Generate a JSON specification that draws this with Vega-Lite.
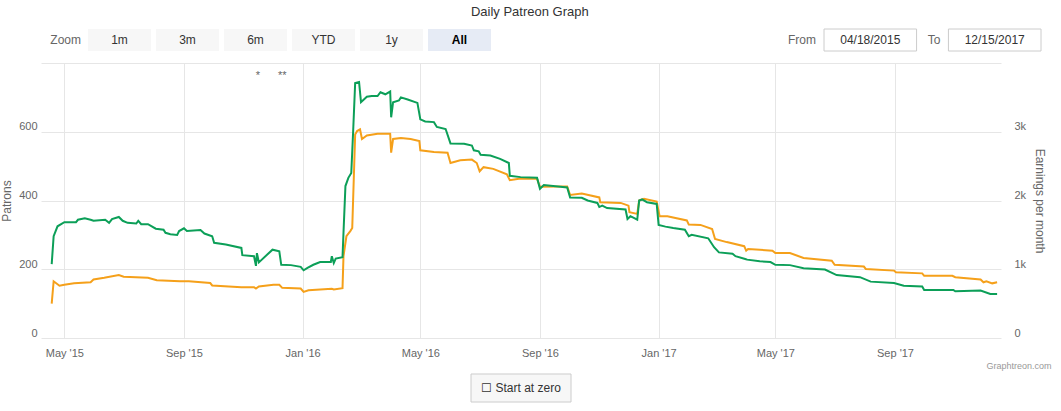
{
  "$schema": "https://vega.github.io/schema/vega-lite/v6.json",
  "background": "white",
  "padding": {"left": 0, "top": 5, "right": 5, "bottom": 5},
  "config": {
    "font": "Liberation Sans",
    "view": {"stroke": null},
    "axis": {"labelFont": "Liberation Sans", "titleFont": "Liberation Sans"}
  },
  "title": {
    "text": "Daily Patreon Graph",
    "fontSize": 13,
    "fontWeight": "normal",
    "color": "#333333",
    "anchor": "middle",
    "offset": 10,
    "dx": 4
  },
  "datasets": {
    "buttons": [
      {"btn": "1m"}, {"btn": "3m"}, {"btn": "6m"}, {"btn": "YTD"}, {"btn": "1y"}, {"btn": "All"}
    ],
    "range": [
      {"field": "From", "date": "04/18/2015"},
      {"field": "To", "date": "12/15/2017"}
    ],
    "patrons": [
      {"date": "2015-04-18", "patrons": 215},
      {"date": "2015-04-20", "patrons": 296},
      {"date": "2015-04-24", "patrons": 325},
      {"date": "2015-05-01", "patrons": 337},
      {"date": "2015-05-13", "patrons": 337},
      {"date": "2015-05-15", "patrons": 344},
      {"date": "2015-05-22", "patrons": 348},
      {"date": "2015-05-28", "patrons": 344},
      {"date": "2015-05-31", "patrons": 341},
      {"date": "2015-06-12", "patrons": 344},
      {"date": "2015-06-16", "patrons": 335},
      {"date": "2015-06-19", "patrons": 346},
      {"date": "2015-06-26", "patrons": 352},
      {"date": "2015-06-30", "patrons": 341},
      {"date": "2015-07-05", "patrons": 335},
      {"date": "2015-07-14", "patrons": 333},
      {"date": "2015-07-16", "patrons": 341},
      {"date": "2015-07-19", "patrons": 331},
      {"date": "2015-07-26", "patrons": 331},
      {"date": "2015-08-03", "patrons": 318},
      {"date": "2015-08-11", "patrons": 315},
      {"date": "2015-08-13", "patrons": 306},
      {"date": "2015-08-18", "patrons": 302},
      {"date": "2015-08-25", "patrons": 300},
      {"date": "2015-08-27", "patrons": 311},
      {"date": "2015-09-01", "patrons": 319},
      {"date": "2015-09-04", "patrons": 311},
      {"date": "2015-09-18", "patrons": 314},
      {"date": "2015-09-22", "patrons": 304},
      {"date": "2015-09-30", "patrons": 296},
      {"date": "2015-10-02", "patrons": 277},
      {"date": "2015-10-14", "patrons": 272},
      {"date": "2015-10-30", "patrons": 262},
      {"date": "2015-10-31", "patrons": 241},
      {"date": "2015-11-12", "patrons": 238},
      {"date": "2015-11-14", "patrons": 210},
      {"date": "2015-11-15", "patrons": 247},
      {"date": "2015-11-17", "patrons": 220},
      {"date": "2015-12-01", "patrons": 257},
      {"date": "2015-12-08", "patrons": 252},
      {"date": "2015-12-10", "patrons": 213},
      {"date": "2015-12-20", "patrons": 212},
      {"date": "2015-12-30", "patrons": 207},
      {"date": "2016-01-02", "patrons": 197},
      {"date": "2016-01-06", "patrons": 204},
      {"date": "2016-01-12", "patrons": 213},
      {"date": "2016-01-19", "patrons": 221},
      {"date": "2016-01-30", "patrons": 221},
      {"date": "2016-01-31", "patrons": 238},
      {"date": "2016-02-02", "patrons": 218},
      {"date": "2016-02-04", "patrons": 231},
      {"date": "2016-02-11", "patrons": 235},
      {"date": "2016-02-12", "patrons": 306},
      {"date": "2016-02-14", "patrons": 442},
      {"date": "2016-02-17", "patrons": 466},
      {"date": "2016-02-20", "patrons": 480},
      {"date": "2016-02-22", "patrons": 606},
      {"date": "2016-02-24", "patrons": 742},
      {"date": "2016-02-28", "patrons": 745},
      {"date": "2016-03-01", "patrons": 686},
      {"date": "2016-03-07", "patrons": 702},
      {"date": "2016-03-12", "patrons": 704},
      {"date": "2016-03-18", "patrons": 704},
      {"date": "2016-03-21", "patrons": 715},
      {"date": "2016-03-26", "patrons": 709},
      {"date": "2016-03-31", "patrons": 717},
      {"date": "2016-04-01", "patrons": 642},
      {"date": "2016-04-03", "patrons": 686},
      {"date": "2016-04-09", "patrons": 691},
      {"date": "2016-04-11", "patrons": 700},
      {"date": "2016-04-18", "patrons": 694},
      {"date": "2016-04-28", "patrons": 684},
      {"date": "2016-05-01", "patrons": 636},
      {"date": "2016-05-06", "patrons": 630},
      {"date": "2016-05-15", "patrons": 628},
      {"date": "2016-05-18", "patrons": 614},
      {"date": "2016-05-27", "patrons": 608},
      {"date": "2016-06-01", "patrons": 566},
      {"date": "2016-06-15", "patrons": 565},
      {"date": "2016-06-23", "patrons": 560},
      {"date": "2016-06-25", "patrons": 546},
      {"date": "2016-06-30", "patrons": 543},
      {"date": "2016-07-02", "patrons": 533},
      {"date": "2016-07-12", "patrons": 531},
      {"date": "2016-07-22", "patrons": 521},
      {"date": "2016-07-31", "patrons": 509},
      {"date": "2016-08-01", "patrons": 472},
      {"date": "2016-08-12", "patrons": 468},
      {"date": "2016-08-29", "patrons": 466},
      {"date": "2016-09-01", "patrons": 434},
      {"date": "2016-09-05", "patrons": 445},
      {"date": "2016-09-22", "patrons": 440},
      {"date": "2016-09-29", "patrons": 438},
      {"date": "2016-10-02", "patrons": 409},
      {"date": "2016-10-14", "patrons": 408},
      {"date": "2016-10-20", "patrons": 400},
      {"date": "2016-10-30", "patrons": 393},
      {"date": "2016-11-01", "patrons": 381},
      {"date": "2016-11-04", "patrons": 385},
      {"date": "2016-11-09", "patrons": 378},
      {"date": "2016-11-28", "patrons": 374},
      {"date": "2016-11-30", "patrons": 346},
      {"date": "2016-12-03", "patrons": 354},
      {"date": "2016-12-06", "patrons": 350},
      {"date": "2016-12-10", "patrons": 344},
      {"date": "2016-12-12", "patrons": 400},
      {"date": "2016-12-15", "patrons": 403},
      {"date": "2016-12-20", "patrons": 395},
      {"date": "2016-12-30", "patrons": 390},
      {"date": "2017-01-01", "patrons": 329},
      {"date": "2017-01-08", "patrons": 324},
      {"date": "2017-01-16", "patrons": 320},
      {"date": "2017-01-28", "patrons": 315},
      {"date": "2017-02-01", "patrons": 296},
      {"date": "2017-02-04", "patrons": 300},
      {"date": "2017-02-21", "patrons": 290},
      {"date": "2017-02-27", "patrons": 264},
      {"date": "2017-03-04", "patrons": 249},
      {"date": "2017-03-18", "patrons": 245},
      {"date": "2017-03-21", "patrons": 238},
      {"date": "2017-03-31", "patrons": 230},
      {"date": "2017-04-02", "patrons": 228},
      {"date": "2017-04-15", "patrons": 223},
      {"date": "2017-04-26", "patrons": 221},
      {"date": "2017-05-01", "patrons": 213},
      {"date": "2017-05-16", "patrons": 212},
      {"date": "2017-05-30", "patrons": 203},
      {"date": "2017-06-21", "patrons": 199},
      {"date": "2017-07-03", "patrons": 183},
      {"date": "2017-07-27", "patrons": 177},
      {"date": "2017-08-07", "patrons": 164},
      {"date": "2017-08-31", "patrons": 160},
      {"date": "2017-09-10", "patrons": 152},
      {"date": "2017-09-29", "patrons": 150},
      {"date": "2017-10-01", "patrons": 140},
      {"date": "2017-10-31", "patrons": 140},
      {"date": "2017-11-02", "patrons": 136},
      {"date": "2017-11-28", "patrons": 138},
      {"date": "2017-12-08", "patrons": 128},
      {"date": "2017-12-15", "patrons": 128}
    ],
    "earnings": [
      {"date": "2015-04-18", "earnings": 500},
      {"date": "2015-04-20", "earnings": 825},
      {"date": "2015-04-26", "earnings": 760},
      {"date": "2015-05-01", "earnings": 775},
      {"date": "2015-05-11", "earnings": 795},
      {"date": "2015-05-28", "earnings": 810},
      {"date": "2015-05-31", "earnings": 850},
      {"date": "2015-06-11", "earnings": 875},
      {"date": "2015-06-26", "earnings": 915},
      {"date": "2015-07-01", "earnings": 890},
      {"date": "2015-07-26", "earnings": 875},
      {"date": "2015-08-04", "earnings": 840},
      {"date": "2015-08-28", "earnings": 825},
      {"date": "2015-09-06", "earnings": 825},
      {"date": "2015-09-28", "earnings": 800},
      {"date": "2015-09-30", "earnings": 765},
      {"date": "2015-10-30", "earnings": 740},
      {"date": "2015-11-12", "earnings": 740},
      {"date": "2015-11-14", "earnings": 720},
      {"date": "2015-11-17", "earnings": 750},
      {"date": "2015-12-02", "earnings": 775},
      {"date": "2015-12-08", "earnings": 775},
      {"date": "2015-12-11", "earnings": 730},
      {"date": "2015-12-30", "earnings": 720},
      {"date": "2016-01-02", "earnings": 670},
      {"date": "2016-01-07", "earnings": 695},
      {"date": "2016-01-31", "earnings": 715},
      {"date": "2016-02-02", "earnings": 705},
      {"date": "2016-02-11", "earnings": 725},
      {"date": "2016-02-12", "earnings": 1190},
      {"date": "2016-02-15", "earnings": 1480},
      {"date": "2016-02-19", "earnings": 1555},
      {"date": "2016-02-21", "earnings": 1600},
      {"date": "2016-02-24", "earnings": 2960},
      {"date": "2016-02-26", "earnings": 3010},
      {"date": "2016-02-29", "earnings": 3035},
      {"date": "2016-03-02", "earnings": 2895},
      {"date": "2016-03-07", "earnings": 2945},
      {"date": "2016-03-18", "earnings": 2970},
      {"date": "2016-03-31", "earnings": 2970},
      {"date": "2016-04-01", "earnings": 2695},
      {"date": "2016-04-03", "earnings": 2895},
      {"date": "2016-04-11", "earnings": 2910},
      {"date": "2016-04-21", "earnings": 2895},
      {"date": "2016-04-30", "earnings": 2865},
      {"date": "2016-05-01", "earnings": 2730},
      {"date": "2016-05-15", "earnings": 2705},
      {"date": "2016-05-29", "earnings": 2695},
      {"date": "2016-06-01", "earnings": 2545},
      {"date": "2016-06-11", "earnings": 2585},
      {"date": "2016-06-23", "earnings": 2595},
      {"date": "2016-06-28", "earnings": 2545},
      {"date": "2016-07-01", "earnings": 2425},
      {"date": "2016-07-05", "earnings": 2485},
      {"date": "2016-07-15", "earnings": 2460},
      {"date": "2016-07-29", "earnings": 2380},
      {"date": "2016-08-01", "earnings": 2295},
      {"date": "2016-08-12", "earnings": 2320},
      {"date": "2016-08-29", "earnings": 2315},
      {"date": "2016-09-01", "earnings": 2200},
      {"date": "2016-09-22", "earnings": 2205},
      {"date": "2016-09-29", "earnings": 2205},
      {"date": "2016-10-02", "earnings": 2080},
      {"date": "2016-10-14", "earnings": 2100},
      {"date": "2016-11-01", "earnings": 2045},
      {"date": "2016-11-02", "earnings": 1975},
      {"date": "2016-11-23", "earnings": 1965},
      {"date": "2016-12-01", "earnings": 1925},
      {"date": "2016-12-02", "earnings": 1830},
      {"date": "2016-12-10", "earnings": 1805},
      {"date": "2016-12-12", "earnings": 2000},
      {"date": "2016-12-17", "earnings": 2025},
      {"date": "2016-12-30", "earnings": 1985},
      {"date": "2017-01-02", "earnings": 1770},
      {"date": "2017-01-10", "earnings": 1770},
      {"date": "2017-01-30", "earnings": 1710},
      {"date": "2017-02-01", "earnings": 1650},
      {"date": "2017-02-13", "earnings": 1645},
      {"date": "2017-02-25", "earnings": 1585},
      {"date": "2017-02-28", "earnings": 1440},
      {"date": "2017-03-12", "earnings": 1395},
      {"date": "2017-03-30", "earnings": 1335},
      {"date": "2017-04-01", "earnings": 1270},
      {"date": "2017-04-03", "earnings": 1295},
      {"date": "2017-04-28", "earnings": 1270},
      {"date": "2017-05-01", "earnings": 1235},
      {"date": "2017-05-16", "earnings": 1235},
      {"date": "2017-05-30", "earnings": 1165},
      {"date": "2017-06-28", "earnings": 1125},
      {"date": "2017-07-01", "earnings": 1065},
      {"date": "2017-07-31", "earnings": 1040},
      {"date": "2017-08-02", "earnings": 1005},
      {"date": "2017-08-31", "earnings": 980},
      {"date": "2017-09-02", "earnings": 955},
      {"date": "2017-09-29", "earnings": 940},
      {"date": "2017-10-01", "earnings": 905},
      {"date": "2017-10-30", "earnings": 905},
      {"date": "2017-11-02", "earnings": 885},
      {"date": "2017-11-28", "earnings": 850},
      {"date": "2017-12-01", "earnings": 810},
      {"date": "2017-12-04", "earnings": 825},
      {"date": "2017-12-10", "earnings": 795},
      {"date": "2017-12-15", "earnings": 810}
    ],
    "notes": [
      {"date": "2015-11-16", "label": "*"},
      {"date": "2015-12-11", "label": "**"}
    ],
    "control": [
      {"control": "☐ Start at zero"}
    ]
  },
  "bounds": "flush",
  "spacing": 34,
  "vconcat": [
    {
      "bounds": "flush",
      "spacing": 333,
      "hconcat": [
        {
          "width": 450,
          "height": 22,
          "data": {"name": "buttons"},
          "encoding": {
            "x": {
              "field": "btn",
              "type": "nominal",
              "scale": {
                "domain": ["1m", "3m", "6m", "YTD", "1y", "All"],
                "paddingInner": 0.0735,
                "paddingOuter": 0.3456,
                "align": 1
              },
              "axis": null
            }
          },
          "layer": [
            {
              "mark": {"type": "rect"},
              "encoding": {
                "color": {
                  "condition": {"test": "datum.btn === 'All'", "value": "#e6ebf5"},
                  "value": "#f7f7f7"
                }
              }
            },
            {
              "transform": [{"filter": "datum.btn !== 'All'"}],
              "mark": {"type": "text", "fontSize": 12, "color": "#333333"},
              "encoding": {"text": {"field": "btn"}}
            },
            {
              "transform": [{"filter": "datum.btn === 'All'"}],
              "mark": {"type": "text", "fontSize": 12, "fontWeight": "bold", "color": "#000000"},
              "encoding": {"text": {"field": "btn"}}
            },
            {
              "transform": [{"filter": "datum.btn === '1m'"}],
              "mark": {"type": "text", "fontSize": 12, "color": "#666666", "align": "right", "dx": -7},
              "encoding": {
                "x": {"field": "btn", "type": "nominal", "bandPosition": 0, "axis": null},
                "text": {"value": "Zoom"}
              }
            }
          ]
        },
        {
          "width": 217,
          "height": 22,
          "data": {"name": "range"},
          "encoding": {
            "x": {
              "field": "field",
              "type": "nominal",
              "scale": {
                "domain": ["From", "To"],
                "paddingInner": 0.256,
                "paddingOuter": 0
              },
              "axis": null
            }
          },
          "layer": [
            {
              "mark": {"type": "rect", "fill": "white", "stroke": "#cccccc", "strokeWidth": 1}
            },
            {
              "mark": {"type": "text", "fontSize": 12, "color": "#333333"},
              "encoding": {"text": {"field": "date"}}
            },
            {
              "mark": {"type": "text", "fontSize": 12, "color": "#666666", "align": "right", "dx": -8},
              "encoding": {
                "x": {"field": "field", "type": "nominal", "bandPosition": 0, "axis": null},
                "text": {"field": "field"}
              }
            }
          ]
        }
      ]
    },
    {
      "width": 960,
      "height": 275,
      "encoding": {
        "x": {
          "field": "date",
          "type": "temporal",
          "scale": {
            "type": "utc",
            "domain": [
              {"year": 2015, "month": 4, "date": 7, "utc": true},
              {"year": 2017, "month": 12, "date": 19, "utc": true}
            ]
          },
          "axis": {
            "labelExpr": "utcFormat(datum.value, '%b') + \" '\" + utcFormat(datum.value, '%y')",
            "tickCount": {"interval": "month", "step": 4},
            "ticks": false,
            "domain": false,
            "grid": true,
            "gridColor": "#e6e6e6",
            "labelFontSize": 11,
            "labelColor": "#666666",
            "labelPadding": 9,
            "labelFlush": false,
            "title": "Graphtreon.com",
            "titleFontSize": 9,
            "titleFontWeight": "normal",
            "titleColor": "#999999",
            "titleAnchor": "end",
            "titleAlign": "right",
            "titleBaseline": "middle",
            "titleX": 1010,
            "titleY": 27
          }
        }
      },
      "layer": [
        {
          "data": {"name": "earnings"},
          "mark": {"type": "line", "color": "#f5a01a", "strokeWidth": 2},
          "encoding": {
            "y": {
              "field": "earnings",
              "type": "quantitative",
              "scale": {"domain": [0, 4000], "nice": false},
              "axis": {
                "orient": "right",
                "values": [0, 1000, 2000, 3000, 4000],
                "labelExpr": "datum.value == 4000 ? '' : (datum.value == 0 ? '0' : (datum.value / 1000) + 'k')",
                "ticks": false,
                "domain": false,
                "grid": false,
                "labelFontSize": 11,
                "labelColor": "#666666",
                "labelPadding": 13,
                "labelBaseline": "bottom",
                "title": "Earnings per month",
                "titleFontSize": 12,
                "titleFontWeight": "normal",
                "titleColor": "#666666",
                "titlePadding": 7
              }
            }
          }
        },
        {
          "layer": [
            {
              "data": {"name": "patrons"},
              "mark": {"type": "line", "color": "#0c9f58", "strokeWidth": 2},
              "encoding": {
                "y": {
                  "field": "patrons",
                  "type": "quantitative",
                  "scale": {"domain": [0, 800], "nice": false},
                  "axis": {
                    "orient": "left",
                    "values": [0, 200, 400, 600, 800],
                    "labelExpr": "datum.value == 800 ? '' : datum.label",
                    "ticks": false,
                    "domain": false,
                    "grid": true,
                    "gridColor": "#e6e6e6",
                    "labelFontSize": 11,
                    "labelColor": "#666666",
                    "labelPadding": 4,
                    "labelBaseline": "bottom",
                    "title": "Patrons",
                    "titleFontSize": 12,
                    "titleFontWeight": "normal",
                    "titleColor": "#666666",
                    "titlePadding": 5
                  }
                }
              }
            },
            {
              "data": {"name": "notes"},
              "mark": {"type": "text", "fontSize": 11, "color": "#666666", "baseline": "middle"},
              "encoding": {
                "y": {"datum": 762, "type": "quantitative"},
                "text": {"field": "label"}
              }
            }
          ]
        }
      ],
      "resolve": {"scale": {"y": "independent"}}
    },
    {
      "width": 960,
      "height": 30,
      "data": {"name": "control"},
      "encoding": {
        "x": {
          "field": "control",
          "type": "nominal",
          "scale": {"paddingInner": 0, "paddingOuter": 0},
          "axis": null
        },
        "y": {
          "field": "control",
          "type": "nominal",
          "scale": {"paddingInner": 0, "paddingOuter": 0.0357, "align": 1},
          "axis": null
        }
      },
      "layer": [
        {
          "mark": {"type": "rect", "width": 100, "fill": "#f7f7f7", "stroke": "#cccccc", "strokeWidth": 1}
        },
        {
          "mark": {"type": "text", "fontSize": 12, "color": "#333333"},
          "encoding": {"text": {"field": "control"}}
        }
      ]
    }
  ]
}
